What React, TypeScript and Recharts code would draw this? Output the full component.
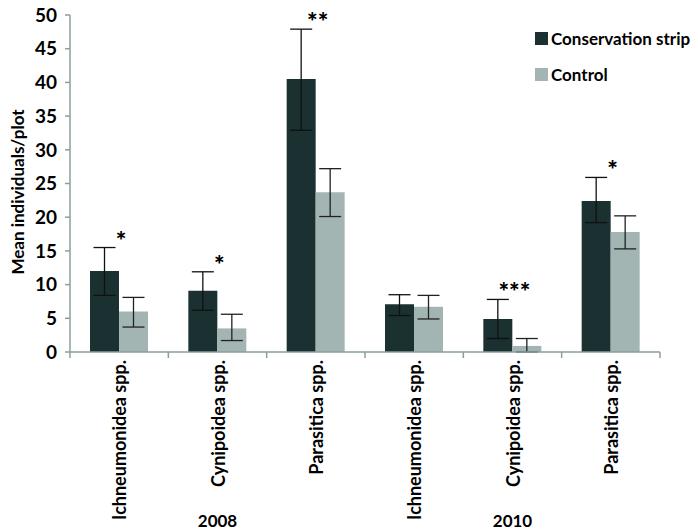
import React from "react";
import {
  BarChart,
  Bar,
  XAxis,
  YAxis,
  ErrorBar,
  LabelList,
} from "recharts";

const categories = [
  "Ichneumonidea spp.",
  "Cynipoidea spp.",
  "Parasitica spp.",
  "Ichneumonidea spp.",
  "Cynipoidea spp.",
  "Parasitica spp.",
];
const yearLabels = ["", "2008", "", "", "2010", ""];

const stripMean = [12, 9.1, 40.5, 7.1, 4.9, 22.4];
const stripHigh = [15.5, 11.9, 47.9, 8.5, 7.8, 25.9];
const stripLow = [8.4, 6.2, 32.9, 5.4, 2.0, 19.2];

const controlMean = [6.0, 3.5, 23.7, 6.7, 0.9, 17.8];
const controlHigh = [8.1, 5.6, 27.2, 8.4, 2.0, 20.2];
const controlLow = [3.7, 1.7, 20.1, 4.9, 0, 15.3];

const significance = ["*", "*", "**", "", "***", "*"];
const yTicks = [0, 5, 10, 15, 20, 25, 30, 35, 40, 45, 50];

const data = categories.map((name, i) => ({
  name,
  year: yearLabels[i],
  strip: stripMean[i],
  stripErr: [stripMean[i] - stripLow[i], stripHigh[i] - stripMean[i]],
  stripHigh: stripHigh[i],
  control: controlMean[i],
  controlErr: [controlMean[i] - controlLow[i], controlHigh[i] - controlMean[i]],
  sig: significance[i],
}));

const FONT = "Lato, 'Open Sans', sans-serif";
const DARK = "#1a3031";
const LIGHT = "#a3b5b2";
const AXIS = "#8a9f9d";

const W = 698;
const H = 532;
const PLOT_LEFT = 70;
const PLOT_RIGHT = 660;
const PLOT_TOP = 15;
const PLOT_BOTTOM = 352;
const BAND = (PLOT_RIGHT - PLOT_LEFT) / categories.length;
const yPix = (v: number) => PLOT_BOTTOM - (v / 50) * (PLOT_BOTTOM - PLOT_TOP);

function CategoryTick(props: any) {
  const { x, payload, index } = props;
  const left = x - BAND / 2;
  const isLast = index === categories.length - 1;
  return (
    <g>
      <line x1={left} y1={PLOT_BOTTOM} x2={left} y2={PLOT_BOTTOM + 6} stroke={AXIS} strokeWidth={1.5} />
      {isLast && (
        <line x1={left + BAND} y1={PLOT_BOTTOM} x2={left + BAND} y2={PLOT_BOTTOM + 6} stroke={AXIS} strokeWidth={1.5} />
      )}
      <text
        x={x}
        y={360}
        transform={`rotate(-90, ${x}, 360)`}
        textAnchor="end"
        dominantBaseline="central"
        fontFamily={FONT}
        fontWeight={700}
        fontSize={18}
        fill="#000"
      >
        {payload.value}
      </text>
      {data[index]?.year && (
        <text
          x={x}
          y={527}
          textAnchor="middle"
          fontFamily={FONT}
          fontWeight={700}
          fontSize={17}
          fill="#000"
        >
          {data[index].year}
        </text>
      )}
    </g>
  );
}

function SigLabel(props: any) {
  const { x, width, index } = props;
  const d = data[index];
  if (!d || !d.sig) return null;
  return (
    <text
      x={x + width + 2}
      y={yPix(d.stripHigh) + 2}
      textAnchor="middle"
      fontFamily={FONT}
      fontWeight={900}
      fontSize={25}
      fill="#000"
    >
      {d.sig}
    </text>
  );
}

function LegendBox() {
  const items = [
    { label: "Conservation strip", color: DARK },
    { label: "Control", color: LIGHT },
  ];
  return (
    <div
      style={{
        position: "absolute",
        top: 20,
        left: 535,
        fontFamily: FONT,
        fontWeight: 700,
        fontSize: 17,
        color: "#000",
      }}
    >
      {items.map((it) => (
        <div key={it.label} style={{ display: "flex", alignItems: "center", height: 36 }}>
          <div style={{ width: 13, height: 13, background: it.color, marginRight: 3 }} />
          <span>{it.label}</span>
        </div>
      ))}
    </div>
  );
}

export default function App() {
  return (
    <div style={{ position: "relative", width: W, height: H, background: "#fff" }}>
      <style>{`body{margin:0}`}</style>
      <BarChart
        width={W}
        height={H}
        data={data}
        barGap={0}
        barSize={29}
        margin={{ top: PLOT_TOP, right: W - PLOT_RIGHT, bottom: 10, left: 10 }}
      >
        <XAxis
          dataKey="name"
          interval={0}
          height={H - PLOT_BOTTOM - 10}
          axisLine={{ stroke: AXIS, strokeWidth: 1.5 }}
          tickLine={false}
          tick={<CategoryTick />}
        />
        <YAxis
          width={60}
          domain={[0, 50]}
          ticks={yTicks}
          interval={0}
          axisLine={{ stroke: AXIS, strokeWidth: 1.5 }}
          tickLine={{ stroke: AXIS, strokeWidth: 1.5 }}
          tickSize={5}
          tickMargin={8}
          tick={{ fill: "#000", fontFamily: FONT, fontWeight: 700, fontSize: 19 }}
          label={{
            content: () => (
              <text
                x={17}
                y={192}
                transform="rotate(-90, 17, 192)"
                textAnchor="middle"
                dominantBaseline="central"
                fontFamily={FONT}
                fontWeight={700}
                fontSize={17}
                fill="#000"
              >
                Mean individuals/plot
              </text>
            ),
          }}
        />
        <Bar dataKey="strip" name="Conservation strip" fill={DARK} isAnimationActive={false}>
          <ErrorBar dataKey="stripErr" width={11} stroke="#111" strokeWidth={1.3} />
          <LabelList dataKey="sig" content={<SigLabel />} />
        </Bar>
        <Bar dataKey="control" name="Control" fill={LIGHT} isAnimationActive={false}>
          <ErrorBar dataKey="controlErr" width={11} stroke="#222" strokeWidth={1.3} />
        </Bar>
      </BarChart>
      <LegendBox />
    </div>
  );
}
